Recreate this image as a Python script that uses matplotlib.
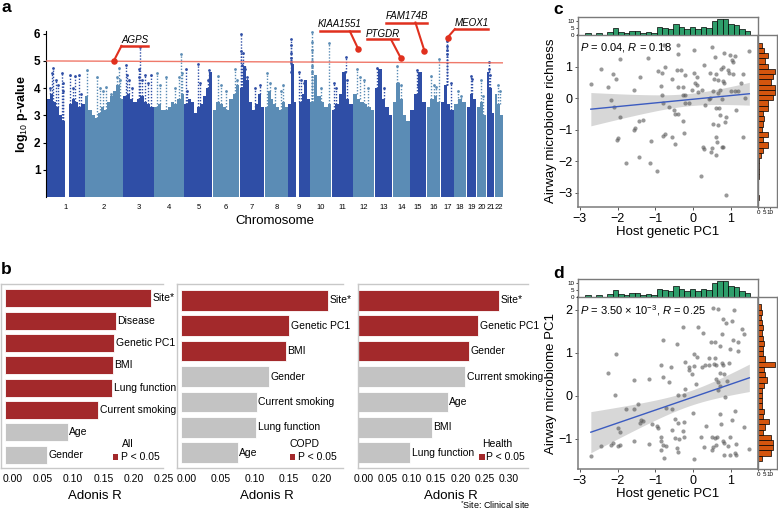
import numpy as np
import matplotlib
matplotlib.use('Agg')
import matplotlib.pyplot as plt
from matplotlib.patches import Rectangle
from matplotlib.transforms import ScaledTranslation, blended_transform_factory

plt.rcParams['font.family'] = ['Liberation Sans', 'DejaVu Sans']
plt.rcParams['mathtext.fontset'] = 'custom'
plt.rcParams['mathtext.rm'] = 'Liberation Sans'
plt.rcParams['mathtext.it'] = 'Liberation Sans:italic'
plt.rcParams['mathtext.bf'] = 'Liberation Sans:bold'

# ---------------- DATA ----------------
# Panel a: Manhattan plot
chrom_names = [str(i) for i in range(1, 23)]
chrom_len = [249, 243, 198, 191, 181, 171, 159, 146, 141, 136, 135, 134,
             115, 107, 103, 90, 81, 78, 59, 63, 48, 51]
chrom_env = [
    [3.6, 3.8, 3.5, 3.3, 3.0, 2.8, 0, 3.4, 3.6, 3.5, 3.3, 3.4],
    [3.7, 3.2, 3.0, 2.9, 3.1, 3.3, 3.2, 3.5, 3.7, 3.9, 4.1, 3.6],
    [3.7, 3.8, 3.6, 3.5, 3.6, 3.7, 3.5, 3.4, 3.3],
    [3.3, 3.4, 3.2, 3.2, 3.3, 3.5, 3.4, 3.6, 3.8],
    [3.4, 3.6, 3.5, 3.1, 3.3, 3.4, 3.7, 4.0, 4.6],
    [3.2, 3.5, 3.4, 3.3, 3.2, 3.6, 3.8, 4.1],
    [4.0, 4.8, 4.3, 3.5, 3.2, 3.4, 3.8, 3.3],
    [3.3, 3.9, 3.6, 3.4, 3.3, 3.2, 3.5, 3.3],
    [3.4, 4.9, 3.5, 0, 3.5, 3.8, 4.3, 3.6],
    [3.5, 4.5, 3.7, 3.5, 3.3, 3.4],
    [3.2, 3.4, 3.8, 4.6, 3.6, 3.4],
    [3.8, 3.6, 3.5, 3.4, 3.3, 3.2],
    [4.0, 4.7, 3.6, 3.3, 3.0],
    [3.5, 4.2, 3.6, 3.0, 2.8],
    [3.2, 3.8, 4.6, 3.5],
    [3.3, 3.6, 3.7, 3.5],
    [3.5, 4.1, 3.4, 3.2],
    [3.4, 3.6, 3.5],
    [3.3, 3.8, 3.6],
    [3.3, 3.5, 3.0],
    [4.6, 4.0, 3.1],
    [3.8, 3.4, 3.0],
]
chrom_peaks = [
    [(0.10, 4.0), (0.15, 4.55), (0.18, 4.75), (0.25, 4.3), (0.30, 4.1), (0.42, 4.55),
     (0.44, 4.2), (0.43, 3.9), (0.62, 4.5), (0.70, 4.0), (0.75, 4.45), (0.85, 4.5), (0.90, 3.8)],
    [(0.05, 4.65), (0.30, 4.4), (0.40, 4.0), (0.48, 3.9), (0.55, 4.05), (0.70, 3.8),
     (0.85, 4.4), (0.90, 4.75), (0.93, 4.3)],
    [(0.10, 4.85), (0.12, 4.5), (0.20, 4.3), (0.30, 4.0), (0.55, 5.5), (0.50, 4.7),
     (0.52, 4.4), (0.62, 4.3), (0.70, 4.5), (0.80, 4.2), (0.92, 4.5)],
    [(0.10, 4.55), (0.20, 4.1), (0.40, 4.4), (0.70, 4.0), (0.85, 4.4), (0.92, 4.55), (0.90, 5.25)],
    [(0.05, 4.7), (0.10, 3.9), (0.50, 4.9), (0.55, 4.2), (0.88, 4.65), (0.85, 4.3)],
    [(0.20, 4.45), (0.30, 4.1), (0.50, 3.9), (0.85, 4.7), (0.90, 4.3)],
    [(0.05, 5.35), (0.12, 5.3), (0.06, 6.0), (0.10, 4.85), (0.20, 4.7), (0.30, 4.4),
     (0.60, 4.0), (0.80, 4.1)],
    [(0.10, 4.55), (0.20, 4.2), (0.45, 4.0), (0.70, 3.9), (0.80, 4.1)],
    [(0.15, 5.8), (0.15, 5.6), (0.15, 5.3), (0.15, 5.1), (0.15, 4.95), (0.15, 4.6),
     (0.50, 4.6), (0.60, 4.3), (0.75, 4.2)],
    [(0.05, 6.05), (0.05, 5.7), (0.06, 5.4), (0.06, 5.0), (0.06, 4.8), (0.06, 4.6),
     (0.90, 5.65), (0.50, 4.0)],
    [(0.10, 4.2), (0.20, 4.0), (0.65, 5.15), (0.60, 4.6), (0.70, 4.3)],
    [(0.15, 4.7), (0.30, 4.4), (0.50, 4.3), (0.70, 4.0)],
    [(0.15, 4.75), (0.25, 4.5), (0.50, 4.0)],
    [(0.25, 4.8), (0.30, 4.2), (0.50, 4.1)],
    [(0.45, 4.65), (0.50, 4.1), (0.55, 4.45)],
    [(0.30, 4.45), (0.50, 4.1), (0.70, 4.05), (0.90, 5.07)],
    [(0.45, 5.75), (0.45, 5.55), (0.45, 5.4), (0.45, 5.25), (0.80, 4.2)],
    [(0.30, 3.9), (0.60, 3.7)],
    [(0.50, 4.45), (0.60, 4.35)],
    [(0.50, 4.3), (0.70, 3.7)],
    [(0.30, 4.95), (0.35, 4.7), (0.40, 4.5)],
    [(0.40, 4.1), (0.60, 3.9)],
]
threshold = [5.0, 4.93]
genes = ['AGPS', 'KIAA1551', 'PTGDR', 'FAM174B', 'MEOX1']
gene_chr = [2, 12, 14, 15, 17]
gene_pos = [185, 31, 52, 93, 42]
gene_val = [5.0, 5.44, 5.09, 5.37, 5.86]

# Panel b: Adonis R
b_groups = ['All', 'COPD', 'Health']
b_labels = [
    ['Site*', 'Disease', 'Genetic PC1', 'BMI', 'Lung function', 'Current smoking', 'Age', 'Gender'],
    ['Site*', 'Genetic PC1', 'BMI', 'Gender', 'Current smoking', 'Lung function', 'Age'],
    ['Site*', 'Genetic PC1', 'Gender', 'Current smoking', 'Age', 'BMI', 'Lung function'],
]
b_values = [
    [0.242, 0.184, 0.181, 0.179, 0.178, 0.155, 0.104, 0.070],
    [0.217, 0.160, 0.155, 0.130, 0.112, 0.111, 0.084],
    [0.291, 0.247, 0.228, 0.221, 0.184, 0.152, 0.107],
]
b_signif = [
    [True, True, True, True, True, True, False, False],
    [True, True, True, False, False, False, False],
    [True, True, True, False, False, False, False],
]
b_ticks = [[0.00, 0.05, 0.10, 0.15, 0.20, 0.25],
           [0.00, 0.05, 0.10, 0.15, 0.20],
           [0.00, 0.05, 0.10, 0.15, 0.20, 0.25, 0.30]]

# Panel c: host genetic PC1 vs richness
c_x = [-0.78, -1.94, -1.19, -2.44, -2.11, -2.03, -1.42, -0.93, -0.83, -0.75, -2.71, -2.25, -1.56,
       -0.85, -0.83, -2.18, -2.09, -0.80, -0.63, -1.95, -1.44, -1.33, -1.55, -1.57, -0.74, -0.80,
       -2.00, -2.02, -1.11, -1.79, -1.44, -1.15, -0.96,
       -0.40, -0.39, 0.03, 0.50, 0.59, 0.83, 0.98, 1.11, 1.02, 1.05, 1.49, 0.28, -0.43, -0.31,
       -0.22, -0.55, 0.03, 0.11, 0.44, 0.62, 0.74, 0.80, 0.92, 0.96, 1.06, 1.31, 0.55, 0.67,
       0.78, 0.83, 0.04, 0.10, -0.41, -0.27, -0.02, 0.24, 1.27, 0.53, 0.70, 1.10, 1.20, 1.01,
       -0.27, -0.21, 0.12, 0.46, 0.67, 1.37, -0.22, -0.11, 0.32, 0.42, 0.77, -0.51, -0.47,
       -0.40, 0.61, 0.69, -0.26, 0.70, 0.88, 1.14, 0.84, 0.52, 0.66, -0.55, -0.25, -0.49,
       0.60, 0.64, 0.25, 0.30, 0.49, 0.77, 0.80, 0.48, 0.60, 1.33, 0.22, 0.86]
c_y = [1.69, 1.24, 1.26, 0.91, 0.75, 0.59, 0.66, 0.85, 0.78, 0.97, 0.44, 0.34, 0.24,
       0.37, 0.09, -0.07, -0.30, -0.15, -0.30, -0.59, -0.74, -0.71, -0.94, -1.02, -1.14, -1.20,
       -1.28, -1.32, -1.37, -2.06, -1.86, -2.07, -2.31,
       1.67, 1.40, 1.52, 1.62, 1.29, 1.44, 1.35, 1.33, 1.21, 1.15, 1.50, 1.06, 0.89, 0.88,
       0.73, 0.59, 0.80, 0.67, 0.80, 0.77, 0.91, 0.99, 0.89, 0.80, 0.75, 0.77, 0.61, 0.57,
       0.55, 0.49, 0.47, 0.41, 0.35, 0.34, 0.25, 0.24, 0.49, 0.23, 0.25, 0.23, 0.23, 0.21,
       0.10, 0.08, 0.18, 0.01, 0.15, 0.01, -0.15, -0.15, -0.21, -0.04, -0.04, -0.38, -0.50,
       -0.52, -0.33, -0.31, -0.72, -0.54, -0.61, -0.38, -0.75, -0.82, -0.86, -1.23, -1.12, -1.47,
       -1.24, -1.41, -1.55, -1.62, -1.58, -1.55, -1.56, -1.70, -1.82, -1.23, -2.47, -3.08]

# Panel d: host genetic PC1 vs microbiome PC1
d_x = [-0.80, -2.03, -2.25, -1.57, -1.16, -0.84, -0.79, -0.63, -2.08, -1.78, -1.56, -1.45, -1.42,
       -1.39, -1.32, -1.10, -0.95, -0.92, -0.71, -1.99, -1.93, -1.56, -1.18, -0.85, -0.85, -0.79,
       -0.72, -0.85, -0.77, -2.43, -2.18, -2.11, -2.00, -1.94, -2.71,
       0.52, 0.67, 1.08, 0.80, 0.88, 1.04, -0.26, 0.12, 0.27, 0.76, 1.30, 1.36, -0.43, 0.47,
       0.58, 0.72, 0.98, 1.07, 1.20, 1.19, 0.03, 0.10, 0.43, 0.58, -0.22, -0.12, -0.11, 0.02,
       0.23, 0.31, 0.42, 0.55, 0.61, 0.76, 0.80, 0.95, -0.58, -0.02, 0.72, 0.83, 0.61, 0.66,
       0.89, 0.09, 0.70, 0.65, -0.21, -0.40, -0.25, 0.84, -0.57, 0.01, -0.47, -0.40, -0.25,
       -0.56, -0.27, 0.33, 0.72, 0.74, 1.12, 1.03, 1.34, -0.47, -0.38, -0.24, 0.22, 0.49, 0.59,
       0.64, 0.78, 0.82, 0.97, 1.15, 0.30, 0.53, 0.62, 0.50, 0.93, 0.97, 1.11, 1.15, 1.49, 0.81,
       -0.42, -0.39, 0.03]
d_y = [1.30, 0.97, 0.53, 0.37, 0.40, 0.71, 0.43, 0.33, 0.02, -0.31, -0.31, -0.19, -0.62,
       -0.57, -0.59, -0.65, -0.71, -0.75, -0.29, -0.74, -0.85, -1.05, -1.12, -0.96, -1.05, -1.15,
       -1.17, -1.25, -1.44, -1.16, -1.15, -1.09, -1.16, -1.14, -1.40,
       2.05, 2.02, 1.99, 1.80, 1.70, 1.74, 1.60, 1.60, 1.47, 1.43, 1.56, 1.45, 1.20, 1.26,
       1.25, 1.15, 1.10, 1.29, 1.26, 1.05, 0.97, 0.91, 0.88, 0.87, 0.79, 0.67, 0.61, 0.70,
       0.68, 0.73, 0.73, 0.75, 0.73, 0.77, 0.71, 0.77, 0.67, 0.52, 0.53, 0.50, 0.39, 0.33,
       0.34, 0.27, 0.24, 0.13, 0.16, 0.03, 0.02, -0.03, -0.31, -0.39, -0.54, -0.62, -0.60,
       -0.80, -0.82, -0.70, -0.43, -0.65, -0.36, -0.57, -0.72, -0.98, -1.00, -0.96, -0.95, -0.95, -0.99,
       -0.95, -1.04, -1.09, -0.96, -1.12, -1.18, -1.19, -1.15, -1.26, -1.16, -1.37, -1.33, -1.38, -1.24, -1.37,
       -1.21, -1.31, -1.47]

# Marginal histogram counts (30 bins each)
top_counts = [1, 0, 1, 0, 2, 5, 2, 1, 3, 3, 1, 2, 1, 6, 5, 4, 8, 6, 4, 6, 4, 6, 5, 10, 12, 12, 8, 7, 4, 3]
top_range = (-2.86, 1.51)
c_right_counts = [1, 0, 0, 0, 1, 1, 1, 1, 2, 4, 8, 4, 8, 3, 4, 5, 4, 8, 8, 12, 14, 14, 11, 12, 14, 8, 6, 8, 5, 3]
c_right_range = (-3.24, 1.76)
d_right_counts = [3, 11, 12, 12, 11, 4, 6, 9, 4, 5, 3, 3, 3, 3, 5, 7, 6, 5, 14, 6, 4, 4, 5, 4, 3, 4, 3, 2, 3, 2]
d_right_range = (-1.51, 2.13)

# ---------------- FIGURE ----------------
W, H = 778, 513
fig = plt.figure(figsize=(W / 100, H / 100), dpi=100)


def axpx(x0, y0, x1, y1):
    return fig.add_axes([x0 / W, 1 - y1 / H, (x1 - x0) / W, (y1 - y0) / H])


def ftext(x, y, s, **kw):
    fig.text(x / W, 1 - y / H, s, **kw)


# ---- Panel a ----
axA = axpx(46, 31, 503, 197)
dark, light = '#2F4EA6', '#5B8CB5'
red = '#E0301E'
gap = 4
starts = np.concatenate([[0], np.cumsum(np.array(chrom_len) + gap)[:-1]])
total = starts[-1] + chrom_len[-1]
for i, (L, env, pk) in enumerate(zip(chrom_len, chrom_env, chrom_peaks)):
    col = dark if i % 2 == 0 else light
    s = starts[i]
    env = np.array(env, dtype=float)
    edges = np.linspace(s, s + L, len(env) + 1)
    xs = np.repeat(edges, 2)[1:-1]
    ys = np.repeat(env, 2)
    axA.fill_between(xs, 0, ys, color=col, lw=0)
    px = np.array([s + f * L for f, v in pk])
    py = np.array([v for f, v in pk])
    base = np.interp(px, xs, ys)
    axA.vlines(px, base, py, colors=col, lw=1.0, linestyles=(0, (1, 1.2)), zorder=2)
    axA.scatter(px, py, s=4, color=col, lw=0, zorder=3)
axA.plot([0, total], threshold, color='#EE6A5A', lw=1.0, alpha=0.9, zorder=4)
axA.set_xlim(-2, total + 2)
axA.set_ylim(0, 6.1)
for sp in ['top', 'right', 'bottom']:
    axA.spines[sp].set_visible(False)
axA.spines['left'].set_linewidth(0.8)
axA.set_yticks([1, 2, 3, 4, 5, 6])
axA.tick_params(axis='y', labelsize=8.5, length=2.5, width=0.8, pad=1.5)
for t in axA.get_yticklabels():
    t.set_fontweight('bold')
axA.set_xticks([starts[i] + chrom_len[i] / 2 for i in range(22)])
axA.set_xticklabels(chrom_names, fontsize=5.5)
axA.tick_params(axis='x', length=0, pad=5)
axA.set_xlabel('Chromosome', fontsize=9.5, labelpad=3)
axA.set_ylabel(r'log$_{10}$ p-value', fontsize=9, fontweight='bold', labelpad=3)

ann = {
    'AGPS': ((7.7, 15), ((7.7, 15), (34.7, 15)), (21, 21)),
    'KIAA1551': ((-8.3, 17.6), ((-38.3, 17.6), (1, 17.6)), (-18.7, 25.3)),
    'PTGDR': ((-10, 19), ((-34.4, 19), (-3.4, 19)), (-18.7, 24.6)),
    'FAM174B': ((-9, 28.3), ((-38, 28.3), (2.7, 28.3)), (-17.7, 35.3)),
    'MEOX1': ((7.3, 8.4), ((7.3, 8.4), (40.6, 8.4)), (24.3, 15)),
}
inv = axA.transData.inverted()
for g, c, p, v in zip(genes, gene_chr, gene_pos, gene_val):
    x = starts[c - 1] + p
    X0, Y0 = axA.transData.transform((x, v))
    P = lambda dx, dy: inv.transform((X0 + dx, Y0 + dy))
    diag, hor, txt = ann[g]
    p1 = P(*diag)
    axA.plot([x, p1[0]], [v, p1[1]], color=red, lw=1.5, clip_on=False, zorder=6)
    h0, h1 = P(*hor[0]), P(*hor[1])
    axA.plot([h0[0], h1[0]], [h0[1], h1[1]], color=red, lw=1.8, clip_on=False, zorder=6)
    axA.scatter([x], [v], s=22, color=red, zorder=7, clip_on=False, lw=0)
    tx, ty = P(*txt)
    axA.text(tx, ty, g, style='italic', fontsize=7, ha='center', va='center', clip_on=False)

# ---- Panel b ----
b_boxes = [(1, 163), (176.7, 343.3), (357.5, 528)]
b_zero = [4.7, 181, 358.3]
b_scale = [604, 676, 485]
b_labx = [0.58, 0.54, 0.55]
b_shift = [8, 6, 5]
leg_pos = [((128, 444), (115.8, 457), 120.7),
           ((304, 444), (292.5, 457), 297.7),
           ((496.7, 444), (482, 457), 485.7)]
barred, bargray = '#A3292B', '#C3C3C3'
for k in range(3):
    x0, x1 = b_boxes[k]
    ax = axpx(x0, 284, x1, 468)
    vals = b_values[k]
    n = len(vals)
    cols = [barred if s else bargray for s in b_signif[k]]
    ax.barh(np.arange(n), vals, height=0.81 if n == 7 else 0.8, color=cols, edgecolor='white', lw=0.6)
    for i, (lab, v) in enumerate(zip(b_labels[k], vals)):
        ax.text(v + 1.5 / b_scale[k], i, lab, fontsize=7.5, va='center', ha='left', clip_on=False)
    left = -(b_zero[k] - x0) / b_scale[k]
    right = (x1 - b_zero[k]) / b_scale[k]
    ax.set_xlim(left, right)
    if n == 8:
        ax.set_ylim(7.6, -0.64)
    else:
        ax.set_ylim(6.6, -0.64)
    ax.set_yticks([])
    ax.set_xticks(b_ticks[k])
    ax.set_xticklabels([])
    ax.tick_params(axis='x', length=0)
    tr = blended_transform_factory(ax.transData, ax.transAxes) + \
        ScaledTranslation(b_shift[k] / 100, 0, fig.dpi_scale_trans)
    for t in b_ticks[k]:
        ax.text(t, -0.03, '%.2f' % t, transform=tr, fontsize=7.5, ha='center', va='top')
    for sp in ['top', 'left', 'bottom']:
        ax.spines[sp].set_color('#C8C8C8')
        ax.spines[sp].set_linewidth(1.0)
    ax.spines['right'].set_visible(False)
    ax.set_xlabel('Adonis R', fontsize=9.5)
    ax.xaxis.set_label_coords(b_labx[k], -0.12)
    (gx, gy), (sx, sy), px = leg_pos[k]
    ftext(gx, gy, b_groups[k], fontsize=7.5, ha='center', va='center')
    fig.add_artist(Rectangle(((sx - 2.6) / W, 1 - (sy + 2.6) / H), 5.2 / W, 5.2 / H,
                             transform=fig.transFigure, color=barred, lw=0))
    ftext(px, sy, 'P < 0.05', fontsize=7.5, ha='left', va='center')
ftext(460, 505, r'$^{*}$Site: Clinical site', fontsize=6.5, ha='left', va='center')


# ---- Panels c and d ----
def scatter_panel(y0, y1, tb0, x, y, rcounts, rrange, ylim, yticks, ylabel, note):
    ax = axpx(578, y0, 758, y1)
    x = np.array(x); y = np.array(y)
    ax.scatter(x, y, s=9, color='#555555', alpha=0.6, lw=0, zorder=3)
    n = len(x)
    xm = x.mean()
    b1, b0 = np.polyfit(x, y, 1)
    res = y - (b0 + b1 * x)
    s = np.sqrt((res ** 2).sum() / (n - 2))
    sxx = ((x - xm) ** 2).sum()
    xx = np.linspace(x.min(), x.max(), 100)
    yy = b0 + b1 * xx
    se = s * np.sqrt(1 / n + (xx - xm) ** 2 / sxx)
    ax.fill_between(xx, yy - 1.98 * se, yy + 1.98 * se, color='#BDBDBD', alpha=0.6, lw=0, zorder=2)
    ax.plot(xx, yy, color='#3B5BC0', lw=1.0, zorder=4)
    ax.set_xlim(-3.05, 1.72)
    ax.set_ylim(*ylim)
    ax.set_xticks([-3, -2, -1, 0, 1])
    ax.set_yticks(yticks)
    ax.tick_params(labelsize=9, length=2.5, width=0.7, color='#555555', pad=1.5)
    for sp in ax.spines.values():
        sp.set_color('#7A7A7A'); sp.set_linewidth(1.1)
    ax.set_xlabel('Host genetic PC1', fontsize=9.5, labelpad=1)
    ax.set_ylabel(ylabel, fontsize=9.5, labelpad=1)
    ax.text(0.01, 0.965, note, transform=ax.transAxes, fontsize=8, ha='left', va='top')
    # top histogram
    at = axpx(578, tb0, 758, y0)
    edges = np.linspace(top_range[0], top_range[1], len(top_counts) + 1)
    at.bar(edges[:-1], top_counts, width=np.diff(edges), align='edge', color='#2E9E6B',
           edgecolor='black', lw=0.5)
    at.set_xlim(-3.05, 1.72)
    at.set_ylim(-0.3, 13.2)
    at.set_xticks([])
    at.set_yticks([0, 5, 10])
    at.tick_params(axis='y', labelsize=4.5, length=1.5, width=0.5, pad=1)
    for sp in at.spines.values():
        sp.set_color('#7A7A7A'); sp.set_linewidth(1.0)
    # right histogram
    ar = axpx(758, y0, 777, y1)
    redges = np.linspace(rrange[0], rrange[1], len(rcounts) + 1)
    ar.barh(redges[:-1], rcounts, height=np.diff(redges), align='edge', color='#D4550E',
            edgecolor='black', lw=0.5)
    ar.set_ylim(*ylim)
    ar.set_xlim(-0.2, 15.6)
    ar.set_yticks([])
    ar.set_xticks([0, 5, 10])
    ar.tick_params(axis='x', labelsize=4.5, length=1.5, width=0.5, pad=1)
    for sp in ar.spines.values():
        sp.set_color('#7A7A7A'); sp.set_linewidth(1.0)


scatter_panel(35, 207, 17, c_x, c_y, c_right_counts, c_right_range, (-3.46, 2.0),
              [-3, -2, -1, 0, 1], 'Airway microbiome richness',
              r'$P$ = 0.04, $R$ = 0.18')
scatter_panel(297, 469, 279, d_x, d_y, d_right_counts, d_right_range, (-1.70, 2.30),
              [-1, 0, 1, 2], 'Airway microbiome PC1',
              r'$P$ = 3.50 × 10$^{-3}$, $R$ = 0.25')

# Panel letters
for lab, (x, y) in zip('abcd', [(1, 0), (1, 262), (553, 2), (553, 266)]):
    ftext(x, y, lab, fontsize=12.5, fontweight='bold', ha='left', va='top')

fig.savefig('out.png', dpi=100)
